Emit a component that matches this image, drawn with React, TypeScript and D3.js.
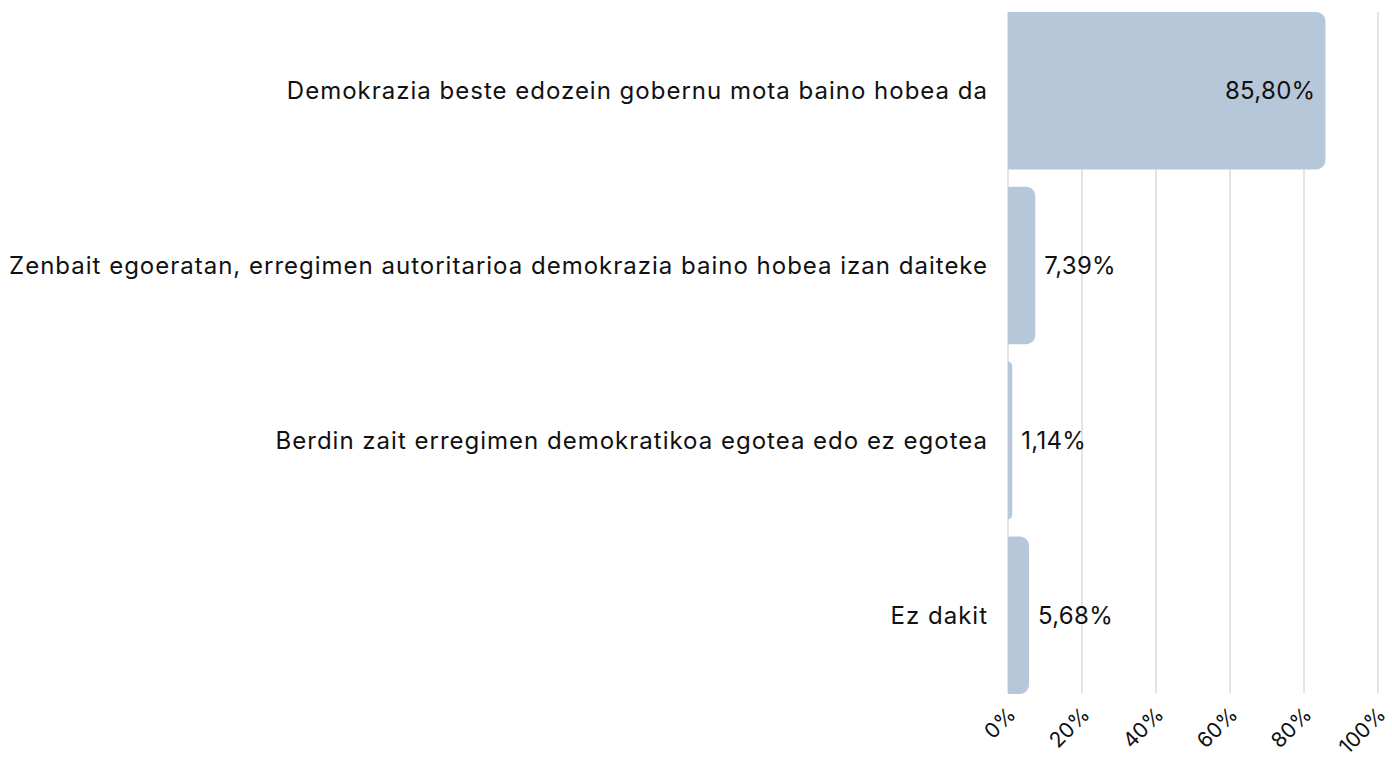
import React from "react";
import * as d3 from "d3";

const categories = [
  "Demokrazia beste edozein gobernu mota baino hobea da",
  "Zenbait egoeratan, erregimen autoritarioa demokrazia baino hobea izan daiteke",
  "Berdin zait erregimen demokratikoa egotea edo ez egotea",
  "Ez dakit",
];
const values = [85.8, 7.39, 1.14, 5.68];
const valueLabels = ["85,80%", "7,39%", "1,14%", "5,68%"];
const ticks = [0, 20, 40, 60, 80, 100];
const tickLabels = ["0%", "20%", "40%", "60%", "80%", "100%"];

const W = 1392;
const H = 763;
const FONT = "Inter, 'Noto Sans', sans-serif";

function barPath(x0: number, y: number, w: number, h: number, r: number) {
  const rr = Math.min(r, w, h / 2);
  return `M${x0},${y}H${x0 + w - rr}A${rr},${rr} 0 0 1 ${x0 + w},${y + rr}V${y + h - rr}A${rr},${rr} 0 0 1 ${x0 + w - rr},${y + h}H${x0}Z`;
}

export default function App() {
  const x = d3.scaleLinear().domain([0, 100]).range([1008, 1378]);
  const y = d3.scaleBand<string>().domain(categories).range([12, 694]).paddingInner(0.1).paddingOuter(0);
  return (
    <svg width={W} height={H} style={{ position: "absolute", left: 0, top: 0, background: "#fff" }} fontFamily={FONT}>
      {ticks.map((t) => (
        <line key={t} x1={x(t)} x2={x(t)} y1={12} y2={693} stroke="#c8c8c8" strokeWidth={1} />
      ))}
      {categories.map((c, i) => {
        const y0 = y(c)!;
        const bw = x(values[i]) - x(0);
        const inside = i === 0;
        return (
          <g key={c}>
            <path d={barPath(x(0), y0, bw, y.bandwidth(), 9)} fill="#b7c7da" />
            <text x={x(0) - 20} y={y0 + y.bandwidth() / 2} dy="0.35em" textAnchor="end" fontSize={24} letterSpacing={1} fill="#111">
              {c}
            </text>
            <text
              x={inside ? x(values[i]) - 10 : x(values[i]) + 9}
              y={y0 + y.bandwidth() / 2}
              dy="0.35em"
              textAnchor={inside ? "end" : "start"}
              fontSize={24}
              letterSpacing={0.3}
              fill="#111"
            >
              {valueLabels[i]}
            </text>
          </g>
        );
      })}
      {ticks.map((t, i) => (
        <text
          key={t}
          transform={`translate(${x(t) + 9},${716}) rotate(-45)`}
          textAnchor="end"
          fontSize={21}
          fill="#111"
        >
          {tickLabels[i]}
        </text>
      ))}
    </svg>
  );
}
